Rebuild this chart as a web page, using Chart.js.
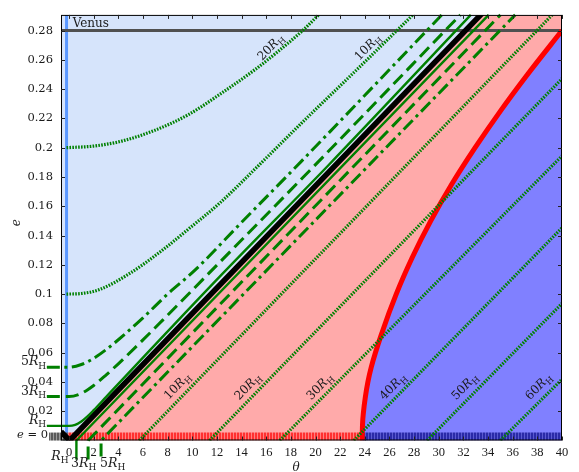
<!DOCTYPE html>
<html>
<head>
<meta charset="utf-8">
<script src="https://cdn.jsdelivr.net/npm/chart.js@4/dist/chart.umd.min.js"></script>
<style>
  html, body { margin: 0; padding: 0; background: #ffffff; }
  #c { display: block; width: 579px; height: 472px; }
</style>
</head>
<body>
<canvas id="c" width="579" height="472"></canvas>
<script>
// ---- axes ----
const thetaTicks = [0, 2, 4, 6, 8, 10, 12, 14, 16, 18, 20, 22, 24, 26, 28, 30, 32, 34, 36, 38, 40];
const eccTicks = [0.02, 0.04, 0.06, 0.08, 0.1, 0.12, 0.14, 0.16, 0.18, 0.2, 0.22, 0.24, 0.26, 0.28];
const thetaRange = [-0.65, 40];
const eccRange = [0, 0.2907];

// ---- reference lines ----
const venusE = 0.28;
const edgeTheta = -0.2;

// e = |theta|/2 boundary
const blackTheta = [-0.65, 0.05, 33.75];
const blackE = [0.0060, 0, 0.2938];

// red boundary
const redTheta = [23.78, 23.81, 23.9, 24.05, 24.25, 24.52, 25.45, 26.55, 27.85, 29.35, 31.05, 32.95, 35.0, 37.2, 40];
const redE = [0, 0.01, 0.02, 0.03, 0.04, 0.05, 0.075, 0.1, 0.125, 0.15, 0.175, 0.2, 0.225, 0.25, 0.28];

// ---- Hill-radius contours, upper side ----
const upRHTheta = [-1.8, 0, 0.5, 1, 1.5, 2, 3, 4, 12.5, 21.05, 32.6];
const upRHE = [0.01, 0.01, 0.0107, 0.013, 0.0165, 0.0207, 0.0297, 0.0387, 0.1143, 0.188, 0.2907];

const up3Theta = [-1.8, 0, 1, 2, 3, 4, 6, 8, 11.3, 20.1, 31.75];
const up3E = [0.03, 0.03, 0.0322, 0.0376, 0.0447, 0.0524, 0.0687, 0.0856, 0.1138, 0.1893, 0.2907];

const up5Theta = [-1.8, 0, 1, 2, 3, 4, 6, 8, 10.24, 14, 18.77, 30.25];
const up5E = [0.05, 0.05, 0.0519, 0.0561, 0.062, 0.0688, 0.0838, 0.100, 0.1165, 0.149, 0.19, 0.2907];

const up10Theta = [-0.2, 1, 2.5, 4.96, 7.5, 9.69, 12.27, 15.4, 19.17, 23.5, 27.9];
const up10E = [0.1, 0.1004, 0.1032, 0.1143, 0.1295, 0.1444, 0.1625, 0.188, 0.2193, 0.2545, 0.2907];

const up20Theta = [-0.2, 2, 4.28, 7, 9.69, 12.4, 15.1, 17, 19.03, 20.25];
const up20E = [0.2, 0.2011, 0.2045, 0.212, 0.2226, 0.2374, 0.2534, 0.266, 0.2806, 0.2907];

// ---- Hill-radius contours, lower side (straight) ----
const lowStartTheta = [0.6, 1.55, 2.6, 5.7, 11.4, 17.1, 23.1, 29.06, 35.0];
const lowEndTheta = [34.05, 35.0, 36.2, 39.2, 40, 40, 40, 40, 40];
const lowEndE = [0.2907, 0.2907, 0.2907, 0.2907, 0.2471, 0.1944, 0.1453, 0.0936, 0.0418];
const lowLeaderE = [-0.013, -0.013, -0.011];

// ---- e = 0 strip ----
const stripGrayTheta = [-1.62, -0.1];
const stripRedTheta = [-0.1, 23.78];
const stripBlueTheta = [23.78, 40];
const stripE = 0.0027;

const pts = (xs, ys) => xs.map((x, i) => ({ x: x, y: ys[i] }));
const GREEN = '#008000';
const DASHED = [13, 6];
const DASHDOT = [13, 4.5, 3, 4.5];
const DOTTED = [1.6, 1.3];

const canvas = document.getElementById('c');
const ctx0 = canvas.getContext('2d');
function stripes(c1, c2) {
  const p = document.createElement('canvas');
  p.width = 3; p.height = 1;
  const g = p.getContext('2d');
  g.fillStyle = c1; g.fillRect(0, 0, 2, 1);
  g.fillStyle = c2; g.fillRect(2, 0, 1, 1);
  return ctx0.createPattern(p, 'repeat');
}

function line(data, color, width, dash, extra) {
  return Object.assign({
    data: data, showLine: true, borderColor: color, borderWidth: width,
    borderDash: dash || [], borderCapStyle: 'butt', borderJoinStyle: 'round',
    pointRadius: 0, fill: false, tension: 0, order: 1
  }, extra || {});
}

const datasets = [];

// green contours
const smooth = { cubicInterpolationMode: 'monotone' };
datasets.push(line(pts(upRHTheta, upRHE), GREEN, 2.4, [], Object.assign({ clip: false }, smooth)));
datasets.push(line(pts(up3Theta, up3E), GREEN, 3, DASHED, Object.assign({ clip: false }, smooth)));
datasets.push(line(pts(up5Theta, up5E), GREEN, 3, DASHDOT, Object.assign({ clip: false }, smooth)));
datasets.push(line(pts(up10Theta, up10E), GREEN, 3.2, DOTTED, smooth));
datasets.push(line(pts(up20Theta, up20E), GREEN, 3.2, DOTTED, smooth));
lowStartTheta.forEach((t0, i) => {
  const d = [];
  if (i < 3) d.push({ x: t0, y: lowLeaderE[i] });
  d.push({ x: t0, y: 0 });
  d.push({ x: lowEndTheta[i], y: lowEndE[i] });
  const dash = i === 0 ? [] : i === 1 ? DASHED : i === 2 ? DASHDOT : DOTTED;
  const w = i === 0 ? 2.4 : (i < 3 ? 3 : 3.2);
  datasets.push(line(d, GREEN, w, dash, i < 3 ? { clip: false } : {}));
});

// boundaries
datasets.push(line(pts(blackTheta, blackE), '#000000', 5.5, [], { order: 2 }));
datasets.push(line(pts(redTheta, redE), '#ff0000', 5, [], Object.assign({ order: 3 }, smooth)));
datasets.push(line(pts(thetaRange, [venusE, venusE]), '#505050', 3, [], { order: 4 }));

// e = 0 strip
datasets.push(line(pts(stripGrayTheta, [stripE, stripE]), stripes('#5a5a5a', '#9a9a9a'), 8, [], { order: 5, clip: false }));
datasets.push(line(pts(stripRedTheta, [stripE, stripE]), stripes('#ff3030', '#ff8080'), 8, [], { order: 5 }));
datasets.push(line(pts(stripBlueTheta, [stripE, stripE]), stripes('#2a2aa8', '#5a5ad0'), 8, [], { order: 5 }));

// inner edge
datasets.push(line(pts([edgeTheta, edgeTheta], [0, eccRange[1]]), '#5b98ff', 3, [], { order: 6 }));

// regions
datasets.push(line(pts(redTheta, redE), 'rgba(0,0,0,0)', 0, [], Object.assign({ order: 7, fill: 'start', backgroundColor: '#8080ff' }, smooth)));
datasets.push(line(pts([0.05, 33.4, 40], [0, eccRange[1], eccRange[1]]), 'rgba(0,0,0,0)', 0, [], { order: 8, fill: 'start', backgroundColor: '#ffaaaa' }));
datasets.push(line(pts(thetaRange, [eccRange[1], eccRange[1]]), 'rgba(0,0,0,0)', 0, [], { order: 9, fill: 'start', backgroundColor: '#d6e4fb' }));

// ---- text helpers ----
const SERIF = '"DejaVu Serif", "Liberation Serif", serif';
function rich(ctx, parts, x, y, angle, align, size) {
  size = size || 12;
  const fonts = {
    n: size + 'px ' + SERIF,
    i: 'italic ' + size + 'px ' + SERIF,
    s: (size * 0.72).toFixed(1) + 'px ' + SERIF
  };
  ctx.save();
  ctx.translate(x, y);
  ctx.rotate(angle || 0);
  ctx.textBaseline = 'alphabetic';
  ctx.textAlign = 'left';
  let w = 0;
  parts.forEach(p => { ctx.font = fonts[p[1]]; w += ctx.measureText(p[0]).width; });
  let cx = align === 'right' ? -w : (align === 'center' ? -w / 2 : 0);
  parts.forEach(p => {
    ctx.font = fonts[p[1]];
    ctx.fillText(p[0], cx, p[1] === 's' ? size * 0.28 : 0);
    cx += ctx.measureText(p[0]).width;
  });
  ctx.restore();
}
const rh = n => (n ? [[n, 'n']] : []).concat([['R', 'i'], ['H', 's']]);

const lineLabels = [
  { n: '20', theta: 16.57, e: 0.267 },
  { n: '10', theta: 24.45, e: 0.267 },
  { n: '10', theta: 8.98, e: 0.0355 },
  { n: '20', theta: 14.7, e: 0.0352 },
  { n: '30', theta: 20.55, e: 0.0352 },
  { n: '40', theta: 26.48, e: 0.0352 },
  { n: '50', theta: 32.31, e: 0.0352 },
  { n: '60', theta: 38.3, e: 0.0352 }
];
const leftLabels = [
  { n: '5', e: 0.05 },
  { n: '3', e: 0.03 },
  { n: '', e: 0.01 }
];

const overlay = {
  id: 'overlay',
  afterDatasetsDraw(chart) {
    const ctx = chart.ctx;
    const a = chart.chartArea;
    const xs = chart.scales.x, ys = chart.scales.y;
    ctx.save();
    // frame
    ctx.strokeStyle = '#000';
    ctx.lineWidth = 1;
    ctx.strokeRect(a.left + 0.5, a.top + 0.5, a.right - a.left - 1, a.bottom - a.top - 1);
    // inward tick marks on all four sides
    ctx.strokeStyle = '#222';
    ctx.beginPath();
    thetaTicks.forEach(v => {
      const px = Math.round(xs.getPixelForValue(v)) + 0.5;
      ctx.moveTo(px, a.bottom); ctx.lineTo(px, a.bottom - 4);
      ctx.moveTo(px, a.top); ctx.lineTo(px, a.top + 4);
    });
    eccTicks.forEach(v => {
      const py = Math.round(ys.getPixelForValue(v)) + 0.5;
      ctx.moveTo(a.left, py); ctx.lineTo(a.left + 4, py);
      ctx.moveTo(a.right, py); ctx.lineTo(a.right - 4, py);
    });
    ctx.stroke();

    ctx.fillStyle = '#1a1a1a';
    // Venus
    ctx.font = '12px ' + SERIF;
    ctx.textBaseline = 'alphabetic';
    ctx.fillText('Venus', xs.getPixelForValue(0.3), ys.getPixelForValue(venusE) - 3.5);

    // contour labels along the lines
    const ang = -Math.atan2(ys.getPixelForValue(0) - ys.getPixelForValue(0.0087), xs.getPixelForValue(1) - xs.getPixelForValue(0));
    lineLabels.forEach(l => {
      rich(ctx, rh(l.n), xs.getPixelForValue(l.theta), ys.getPixelForValue(l.e), ang, 'center', 12);
    });

    // left-hand labels
    leftLabels.forEach(l => {
      rich(ctx, rh(l.n), xs.getPixelForValue(-1.85), ys.getPixelForValue(l.e) - 2, 0, 'right', 12.5);
    });
    rich(ctx, [['e', 'i'], [' = 0', 'n']], xs.getPixelForValue(-1.62) - 1, ys.getPixelForValue(0) - 2.5, 0, 'right', 11.5);

    // bottom labels below the leaders
    const yb = a.bottom;
    rich(ctx, rh(''), xs.getPixelForValue(0.45) - 6, yb + 19, 0, 'right', 12.5);
    rich(ctx, rh('3'), xs.getPixelForValue(lowStartTheta[1]) - 17, yb + 26, 0, 'left', 12.5);
    rich(ctx, rh('5'), xs.getPixelForValue(lowStartTheta[2]) - 1, yb + 26, 0, 'left', 12.5);

    // axis titles
    ctx.font = 'italic 12px ' + SERIF;
    ctx.textAlign = 'center';
    ctx.fillText('\u03B8', 296, 471);
    ctx.save();
    ctx.translate(20, (a.top + a.bottom) / 2 - 5);
    ctx.rotate(-Math.PI / 2);
    ctx.fillText('e', 0, 0);
    ctx.restore();
    ctx.restore();
  }
};

new Chart(canvas, {
  type: 'scatter',
  data: { datasets: datasets },
  options: {
    responsive: false,
    animation: false,
    events: [],
    layout: { padding: { top: 7, right: 17, left: 0, bottom: 0 } },
    plugins: { legend: { display: false }, tooltip: { enabled: false } },
    scales: {
      x: {
        type: 'linear', min: thetaRange[0], max: thetaRange[1],
        afterBuildTicks: s => { s.ticks = thetaTicks.map(v => ({ value: v })); },
        afterFit: s => { s.height = 31.5; },
        grid: { display: false, drawTicks: false },
        border: { display: false },
        ticks: {
          padding: 5, autoSkip: false, maxRotation: 0, color: '#1a1a1a',
          font: { family: '"Liberation Serif", serif', size: 12.5 },
          callback: v => String(v)
        }
      },
      y: {
        type: 'linear', min: eccRange[0], max: eccRange[1],
        afterBuildTicks: s => { s.ticks = eccTicks.map(v => ({ value: v })); },
        afterFit: s => { s.width = 61; },
        grid: { display: false, drawTicks: false },
        border: { display: false },
        ticks: {
          padding: 8, autoSkip: false, color: '#1a1a1a',
          font: { family: '"DejaVu Serif", serif', size: 11.5 },
          callback: v => String(+Number(v).toFixed(4))
        }
      }
    }
  },
  plugins: [overlay]
});
</script>
</body>
</html>
